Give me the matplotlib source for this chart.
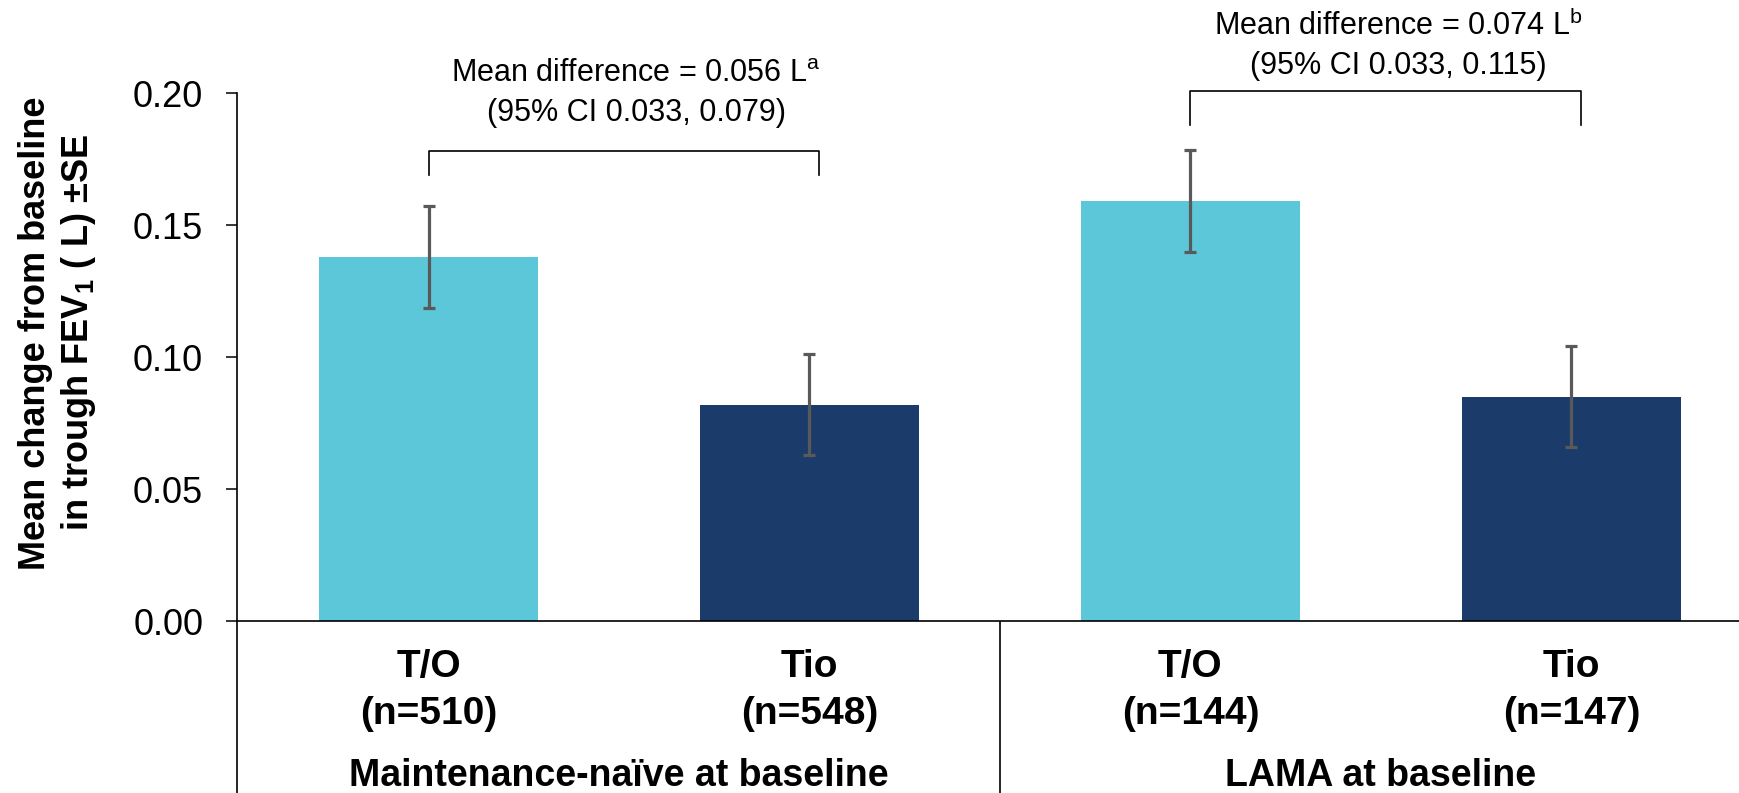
import matplotlib
matplotlib.use("Agg")
import matplotlib.pyplot as plt
import numpy as np

plt.rcParams['font.family'] = ['Liberation Sans', 'DejaVu Sans']
plt.rcParams['mathtext.fontset'] = 'custom'
plt.rcParams['mathtext.rm'] = 'Liberation Sans'
plt.rcParams['mathtext.it'] = 'Liberation Sans:italic'
plt.rcParams['mathtext.bf'] = 'Liberation Sans:bold'

# data
groups = ["Maintenance-naïve at baseline", "LAMA at baseline"]
treatments = ["T/O", "Tio", "T/O", "Tio"]
n_patients = [510, 548, 144, 147]
means = [0.138, 0.082, 0.159, 0.085]
se = [0.0193, 0.0192, 0.0193, 0.0192]
bar_colors = ["#5CC7D9", "#1B3C6B", "#5CC7D9", "#1B3C6B"]

diff_lines = [("Mean difference = 0.056 L$^{\\mathrm{a}}$", "(95% CI 0.033, 0.079)"),
              ("Mean difference = 0.074 L$^{\\mathrm{b}}$", "(95% CI 0.033, 0.115)")]
bracket_pairs = [(0, 1), (2, 3)]
bracket_top = [0.1780, 0.2008]
bracket_drop = [0.009, 0.013]
text_y = [(0.2072, 0.1924), (0.2253, 0.2102)]

x = np.arange(len(means))

fig = plt.figure(figsize=(17.39, 7.93), dpi=100)
ax = fig.add_axes([0.136, 0.2168, 0.864, 0.6658])

ax.bar(x, means, width=0.575, color=bar_colors, zorder=2)
ax.errorbar(x, means, yerr=se, fmt='none', ecolor='#595959', elinewidth=2.3,
            capsize=4.5, capthick=2.3, zorder=3)

ax.set_xlim(-0.504, 3.44)
ax.set_ylim(0, 0.2)
ax.set_yticks([0, 0.05, 0.10, 0.15, 0.20])
ax.set_yticklabels([f"{v:.2f}" for v in [0, 0.05, 0.10, 0.15, 0.20]])
ax.tick_params(axis='y', direction='out', length=8, width=1.1, pad=16,
               labelsize=26, color='black')

ax.set_xticks(x)
ax.set_xticklabels([f"{t}\n(n={n})" for t, n in zip(treatments, n_patients)],
                   fontsize=28, fontweight='bold', linespacing=1.4)
ax.tick_params(axis='x', length=0, pad=20)

for s in ['top', 'right']:
    ax.spines[s].set_visible(False)
ax.spines['left'].set_linewidth(1.2)
ax.spines['bottom'].set_linewidth(1.2)

# category separators reaching down to the bottom edge
ax.vlines([-0.504, 1.5], -0.4, 0, transform=ax.get_xaxis_transform(),
          color='black', lw=1.2, clip_on=False)

for gi, g in enumerate(groups):
    ax.text(gi * 2 + 0.5, -0.0585, g, ha='center', va='center', fontsize=27,
            fontweight='bold', clip_on=False)

# brackets and mean difference annotations
for (a, b), top, drop, (y1, y2), (l1, l2) in zip(bracket_pairs, bracket_top,
                                                bracket_drop, text_y, diff_lines):
    xa, xb = a, b + 0.025
    ax.plot([xa, xa, xb, xb], [top - drop, top, top, top - drop], color='black',
            lw=1.2, clip_on=False)
    xm = (a + b) / 2 + 0.045
    ax.text(xm, y1, l1, ha='center', va='center', fontsize=22, clip_on=False)
    ax.text(xm, y2, l2, ha='center', va='center', fontsize=22, clip_on=False)

fig.text(58 / 1739, 1 - 333 / 793,
         "Mean change from baseline\nin trough FEV$_{\\mathbf{1}}$ ( L) ±SE",
         rotation=90, ha='center', va='center', fontsize=26, fontweight='bold',
         linespacing=1.2)

plt.savefig("out.png", dpi=100)
